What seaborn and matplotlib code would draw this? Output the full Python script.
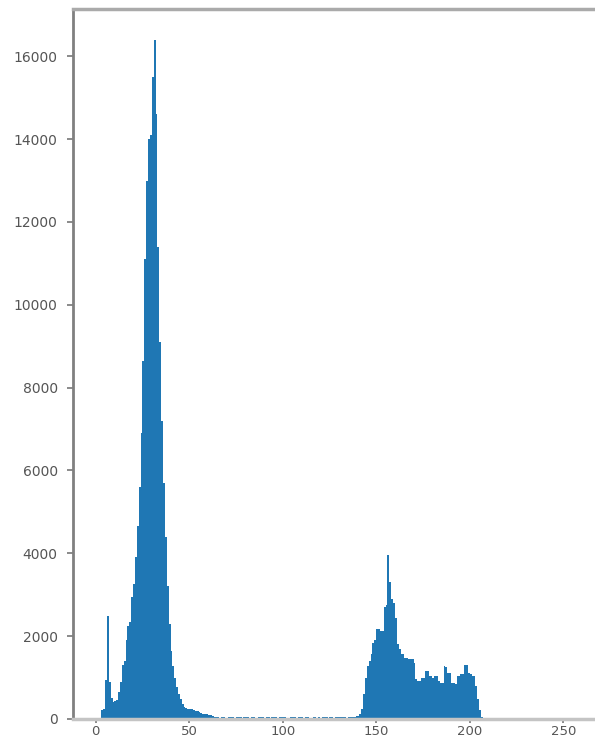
import numpy as np
import pandas as pd
import matplotlib
matplotlib.use("Agg")
import matplotlib.pyplot as plt
import seaborn as sns

# pixel intensity levels 0..255
levels = list(range(256))

# counts, one per intensity level
counts_0_62 = [
    0, 0, 0, 220, 250, 950, 2490, 900, 500, 420,
    430, 450, 650, 900, 1300, 1400, 1900, 2250, 2350, 2950,
    3250, 3900, 4650, 5600, 6900, 8650, 11100, 13000, 14000, 14100,
    15500, 16400, 14600, 11400, 9100, 7200, 5700, 4400, 3200, 2300,
    1650, 1280, 1000, 780, 600, 480, 360, 280, 260, 250,
    240, 230, 210, 200, 190, 180, 150, 120, 115, 110,
    100, 90, 80,
]
counts_63_141 = [
    50, 45, 40, 30, 45, 40, 35, 30, 40, 45,
    40, 35, 40, 45, 40, 30, 45, 50, 40, 35,
    40, 40, 30, 35, 40, 45, 40, 35, 40, 40,
    35, 40, 45, 40, 35, 40, 40, 45, 40, 35,
    30, 40, 45, 40, 35, 40, 45, 40, 30, 40,
    40, 35, 30, 40, 45, 35, 40, 30, 40, 45,
    40, 35, 40, 40, 30, 40, 45, 40, 40, 45,
    40, 35, 40, 50, 55, 60, 70, 80, 120,
]
counts_142_255 = [
    250, 600, 1000, 1280, 1400, 1570, 1840, 1900, 2180, 2180,
    2130, 2130, 2700, 2750, 3950, 3300, 2900, 2800, 2450, 1800,
    1700, 1570, 1570, 1480, 1480, 1450, 1450, 1450, 1360, 970,
    920, 920, 990, 990, 1160, 1160, 1040, 1040, 990, 1040,
    1040, 920, 870, 870, 1280, 1250, 1110, 1110, 870, 870,
    840, 1040, 1040, 1090, 1090, 1300, 1300, 1110, 1090, 1040,
    1040, 800, 480, 220, 60, 30, 25, 25, 20, 20,
    20, 0, 0, 0, 0, 0, 0, 0, 0, 0,
    0, 0, 0, 0, 0, 0, 0, 0, 0, 0,
    0, 0, 0, 0, 0, 0, 0, 0, 0, 0,
    0, 0, 0, 0, 0, 0, 0, 0, 0, 0,
    0, 0, 0, 0,
]
counts = counts_0_62 + counts_63_141 + counts_142_255

xticks = [0, 50, 100, 150, 200, 250]
yticks = [0, 2000, 4000, 6000, 8000, 10000, 12000, 14000, 16000]

df = pd.DataFrame({"level": levels, "count": counts})

fig = plt.figure(figsize=(5.95, 7.42), dpi=100)
ax = fig.add_axes([73 / 595, 1 - 719 / 742, 1 - 73 / 595, (719 - 8.7) / 742])

sns.histplot(data=df, x="level", weights="count", bins=256, binrange=(0, 256),
             element="bars", color="#1f77b4", alpha=1.0, linewidth=0,
             edgecolor="none", ax=ax)

ax.set_xlim(-12.14, 267.0)
ax.set_ylim(0, 17150)
ax.set_xticks(xticks)
ax.set_yticks(yticks)
ax.set_xlabel("")
ax.set_ylabel("")

ax.spines["right"].set_visible(False)
ax.spines["left"].set_color("#808080")
ax.spines["left"].set_linewidth(2.0)
ax.spines["top"].set_color("#aaaaaa")
ax.spines["top"].set_linewidth(2.5)
ax.spines["bottom"].set_color("#c4c4c4")
ax.spines["bottom"].set_linewidth(2.5)

ax.tick_params(axis="both", labelsize=10, labelcolor="#555555",
               color="#777777", length=4, width=1.2)
ax.tick_params(axis="y", pad=7)
ax.tick_params(axis="x", labelsize=9.5, length=3, pad=1.5)

fig.savefig("out.png", dpi=100)
